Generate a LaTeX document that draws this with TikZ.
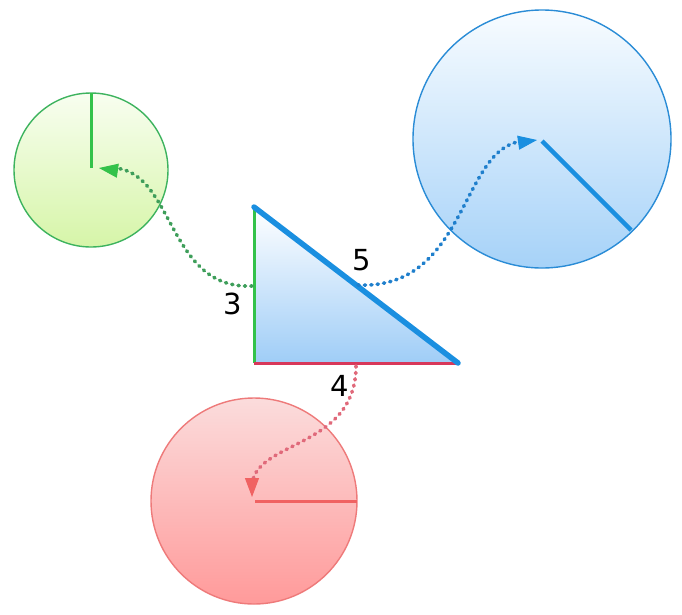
\documentclass[tikz,border=0pt]{standalone}
\usepackage{fontspec}
\setmainfont{DejaVu Sans}
\usetikzlibrary{arrows.meta,calc}
\definecolor{gline}{HTML}{33C24A}
\definecolor{gborder}{HTML}{3DB35E}
\definecolor{gtop}{HTML}{F8FEF0}
\definecolor{gbot}{HTML}{D6F5A8}
\definecolor{gdot}{HTML}{3E9E5A}
\definecolor{bline}{HTML}{1A8FE0}
\definecolor{bborder}{HTML}{2A8CD6}
\definecolor{btop}{HTML}{F8FCFF}
\definecolor{bbot}{HTML}{A6D2F8}
\definecolor{bdot}{HTML}{1F7FCC}
\definecolor{rline}{HTML}{F06262}
\definecolor{rborder}{HTML}{EE7A7A}
\definecolor{rtop}{HTML}{FBDCDC}
\definecolor{rbot}{HTML}{FF9A9A}
\definecolor{rdot}{HTML}{E0697A}
\definecolor{redge}{HTML}{D8385A}
\definecolor{ttop}{HTML}{FFFFFF}
\definecolor{tbot}{HTML}{9FCDF7}
\begin{document}
\begin{tikzpicture}[x=1pt,y=-1pt,
  disk/.style={circle,inner sep=0pt,line width=1.4pt},
  conn/.style={line width=3.6pt,line cap=round,dash pattern=on 1.2pt off 5.2pt},
  tip/.style={line width=1pt,-{Triangle[length=19pt,width=14pt]}},
  lbl/.style={font=\fontsize{29}{30}\selectfont,inner sep=0pt}]
\useasboundingbox (0,0) rectangle (682,614);
% circles
\node[disk,draw=gborder,top color=gtop,bottom color=gbot,minimum size=154pt] (gc) at (91,170) {};
\node[disk,draw=bborder,top color=btop,bottom color=bbot,minimum size=258pt] (bc) at (542,139) {};
\node[disk,draw=rborder,top color=rtop,bottom color=rbot,minimum size=206pt] (rc) at (254,501) {};
% radii
\coordinate (gcen) at (91,168);
\coordinate (gtopp) at (91,93);
\draw[gline,line width=3pt] (gcen) -- (gtopp);
\coordinate (bcen) at (542,141);
\coordinate (brim) at (631,230);
\draw[bline,line width=4.5pt] (bcen) -- (brim);
\coordinate (rcen) at (255,501);
\coordinate (rrim) at (357,501);
\draw[rline,line width=3pt] (rcen) -- (rrim);
% triangle
\coordinate (A) at (254,207);
\coordinate (B) at (254,363);
\coordinate (C) at (458,363);
\shade[top color=ttop,bottom color=tbot] (A) -- (B) -- (C) -- cycle;
\draw[gline,line width=3pt] (A) -- (B);
\draw[redge,line width=3pt] (B) -- (C);
\draw[bline,line width=5.5pt,line cap=round,line join=round] (C) -- (A);
% connector start points
\coordinate (gs) at (252,286);
\coordinate (bs) at (358,285);
\coordinate (rs) at (356,366);
\coordinate (gt) at (99,168);
\coordinate (bt) at (537,140);
\coordinate (rt) at (252,497);
% connectors
\draw[gdot,conn] (gs) .. controls (165,290) and (175,165) .. ($(gt)+(10,0)$);
\draw[bdot,conn] (bs) .. controls (470,290) and (460,140) .. ($(bt)+(-10,1)$);
\draw[rdot,conn] (rs) .. controls (356,450) and (252,440) .. ($(rt)+(0,-10)$);
% arrowheads
\draw[gline,tip] ($(gt)+(14,2)$) -- (gt);
\draw[bline,tip] ($(bt)+(-14,2)$) -- (bt);
\draw[rline,tip] ($(rt)+(0,-14)$) -- (rt);
% labels
\node[lbl] (l3) at (233,304) {3};
\node[lbl] (l5) at (362,260) {5};
\node[lbl] (l4) at (340,386) {4};
\end{tikzpicture}
\end{document}
